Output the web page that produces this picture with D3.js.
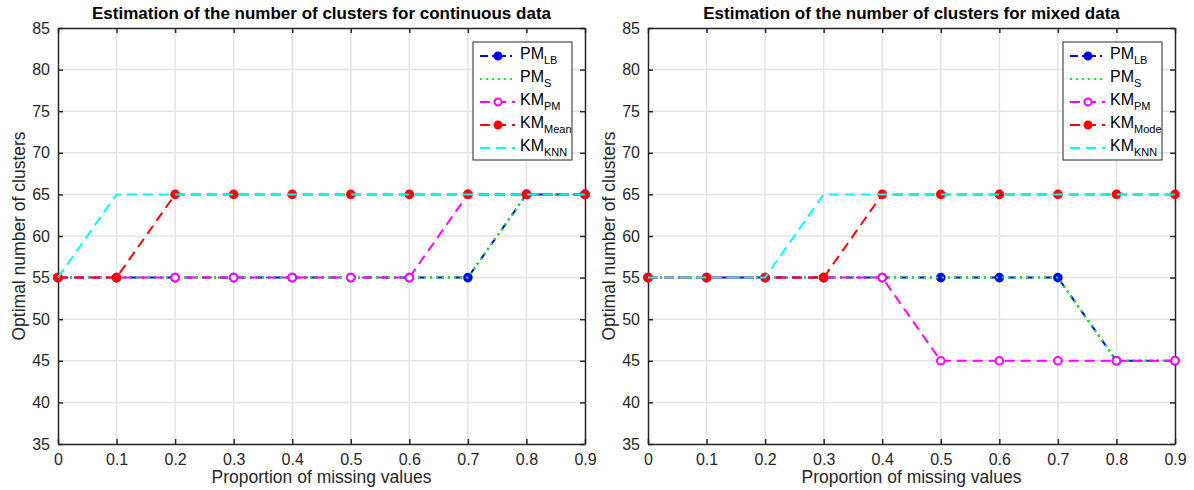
<!DOCTYPE html>
<html>
<head>
<meta charset="utf-8">
<script src="https://cdn.jsdelivr.net/npm/d3@7"></script>
<style>
  body { margin: 0; background: #fff; }
  text { font-family: "Liberation Sans", Arial, sans-serif; fill: #262626; }
</style>
</head>
<body>
<div id="chart"></div>
<script>
// Shared x values and tick labels
const proportions = [0, 0.1, 0.2, 0.3, 0.4, 0.5, 0.6, 0.7, 0.8, 0.9];
const yTicks = [35, 40, 45, 50, 55, 60, 65, 70, 75, 80, 85];

// Continuous data
const contPMLB   = [55, 55, 55, 55, 55, 55, 55, 55, 65, 65];
const contPMS    = [55, 55, 55, 55, 55, 55, 55, 55, 65, 65];
const contKMPM   = [55, 55, 55, 55, 55, 55, 55, 65, 65, 65];
const contKMMean = [55, 55, 65, 65, 65, 65, 65, 65, 65, 65];
const contKMKNN  = [55, 65, 65, 65, 65, 65, 65, 65, 65, 65];

// Mixed data
const mixPMLB   = [55, 55, 55, 55, 55, 55, 55, 55, 45, 45];
const mixPMS    = [55, 55, 55, 55, 55, 55, 55, 55, 45, 45];
const mixKMPM   = [55, 55, 55, 55, 55, 45, 45, 45, 45, 45];
const mixKMMode = [55, 55, 55, 55, 65, 65, 65, 65, 65, 65];
const mixKMKNN  = [55, 55, 55, 65, 65, 65, 65, 65, 65, 65];

const width = 1194, height = 490;
const svg = d3.select("#chart").append("svg")
    .attr("width", width)
    .attr("height", height);

// series styles (MATLAB-like)
const styles = {
    PMLB: { color: "#0000ff", dash: "8,4,2,4", marker: "filled" },
    PMS:  { color: "#00ff00", dash: "2,4", marker: null },
    KMPM: { color: "#ff00ff", dash: "10,6", marker: "open" },
    KMX:  { color: "#ff0000", dash: "10,6", marker: "filled" },
    KNN:  { color: "#00ffff", dash: "10,6", marker: null }
};

function drawPanel(cfg) {
    const plotW = 527, plotH = 416;
    const g = svg.append("g").attr("transform", `translate(${cfg.left},28)`);

    const x = d3.scaleLinear().domain([0, 0.9]).range([0, plotW]);
    const y = d3.scaleLinear().domain([35, 85]).range([plotH, 0]);

    // grid
    g.selectAll(".vgrid").data(proportions.slice(1, -1)).join("line")
        .attr("x1", d => x(d)).attr("x2", d => x(d))
        .attr("y1", 0).attr("y2", plotH)
        .style("stroke", "#e3e3e3").style("stroke-width", 1.5);
    g.selectAll(".hgrid").data(yTicks.slice(1, -1)).join("line")
        .attr("y1", d => y(d)).attr("y2", d => y(d))
        .attr("x1", 0).attr("x2", plotW)
        .style("stroke", "#e3e3e3").style("stroke-width", 1.5);

    // axes with inward ticks
    const fmt = d => d === 0 ? "0" : d3.format(".1f")(d);
    const xb = g.append("g").attr("transform", `translate(0,${plotH})`)
        .call(d3.axisBottom(x).tickValues(proportions).tickFormat(fmt).tickSizeInner(-5).tickSizeOuter(0).tickPadding(10));
    const xt = g.append("g")
        .call(d3.axisTop(x).tickValues(proportions).tickFormat("").tickSizeInner(-5).tickSizeOuter(0));
    const yl = g.append("g")
        .call(d3.axisLeft(y).tickValues(yTicks).tickSizeInner(-5).tickSizeOuter(0).tickPadding(8));
    const yr = g.append("g").attr("transform", `translate(${plotW},0)`)
        .call(d3.axisRight(y).tickValues(yTicks).tickFormat("").tickSizeInner(-5).tickSizeOuter(0));
    [xb, xt, yl, yr].forEach(a => {
        a.select(".domain").style("stroke", "#262626").style("stroke-width", 1.5);
        a.selectAll(".tick line").style("stroke", "#262626").style("stroke-width", 1.5);
        a.selectAll(".tick text").style("font-size", "16px")
            .style("font-family", "Liberation Sans, Arial, sans-serif").attr("fill", "#262626");
    });

    // series
    const line = d3.line().x((d, i) => x(proportions[i])).y(d => y(d));
    cfg.series.forEach(s => {
        const st = styles[s.style];
        g.append("path").datum(s.values)
            .attr("d", line)
            .style("fill", "none")
            .style("stroke", st.color)
            .style("stroke-width", 2)
            .style("stroke-dasharray", st.dash);
        if (st.marker) {
            g.selectAll(null).data(s.values).join("circle")
                .attr("cx", (d, i) => x(proportions[i]))
                .attr("cy", d => y(d))
                .attr("r", 3.8)
                .style("fill", st.marker === "filled" ? st.color : "#fff")
                .style("stroke", st.color)
                .style("stroke-width", 2);
        }
    });

    // titles
    g.append("text").attr("x", plotW / 2).attr("y", -9)
        .attr("text-anchor", "middle")
        .style("font-size", "17px").style("font-weight", "bold")
        .style("fill", "#000")
        .text(cfg.title);
    g.append("text").attr("x", plotW / 2).attr("y", plotH + 39)
        .attr("text-anchor", "middle").style("font-size", "17.5px")
        .text("Proportion of missing values");
    g.append("text")
        .attr("transform", `translate(-33,${plotH / 2}) rotate(-90)`)
        .attr("text-anchor", "middle").style("font-size", "17.5px")
        .text("Optimal number of clusters");

    // legend
    const lg = g.append("g").attr("transform", `translate(${plotW - 112},14)`);
    lg.append("rect").attr("width", 99).attr("height", 118)
        .style("fill", "#fff").style("stroke", "#262626").style("stroke-width", 1);
    cfg.series.forEach((s, i) => {
        const st = styles[s.style];
        const ry = 14 + i * 23;
        lg.append("line").attr("x1", 7).attr("x2", 42).attr("y1", ry).attr("y2", ry)
            .style("stroke", st.color).style("stroke-width", 2)
            .style("stroke-dasharray", st.dash);
        if (st.marker) {
            lg.append("circle").attr("cx", 25).attr("cy", ry).attr("r", 3.5)
                .style("fill", st.marker === "filled" ? st.color : "#fff")
                .style("stroke", st.color).style("stroke-width", 2);
        }
        const t = lg.append("text").attr("x", 47).attr("y", ry + 3)
            .style("font-size", "16px").style("fill", "#000");
        t.append("tspan").text(s.name);
        t.append("tspan").attr("dy", 5).style("font-size", "11px").text(s.sub);
    });
}

drawPanel({
    left: 58,
    title: "Estimation of the number of clusters for continuous data",
    series: [
        { name: "PM", sub: "LB", style: "PMLB", values: contPMLB },
        { name: "PM", sub: "S", style: "PMS", values: contPMS },
        { name: "KM", sub: "PM", style: "KMPM", values: contKMPM },
        { name: "KM", sub: "Mean", style: "KMX", values: contKMMean },
        { name: "KM", sub: "KNN", style: "KNN", values: contKMKNN }
    ]
});

drawPanel({
    left: 648,
    title: "Estimation of the number of clusters for mixed data",
    series: [
        { name: "PM", sub: "LB", style: "PMLB", values: mixPMLB },
        { name: "PM", sub: "S", style: "PMS", values: mixPMS },
        { name: "KM", sub: "PM", style: "KMPM", values: mixKMPM },
        { name: "KM", sub: "Mode", style: "KMX", values: mixKMMode },
        { name: "KM", sub: "KNN", style: "KNN", values: mixKMKNN }
    ]
});
</script>
</body>
</html>
